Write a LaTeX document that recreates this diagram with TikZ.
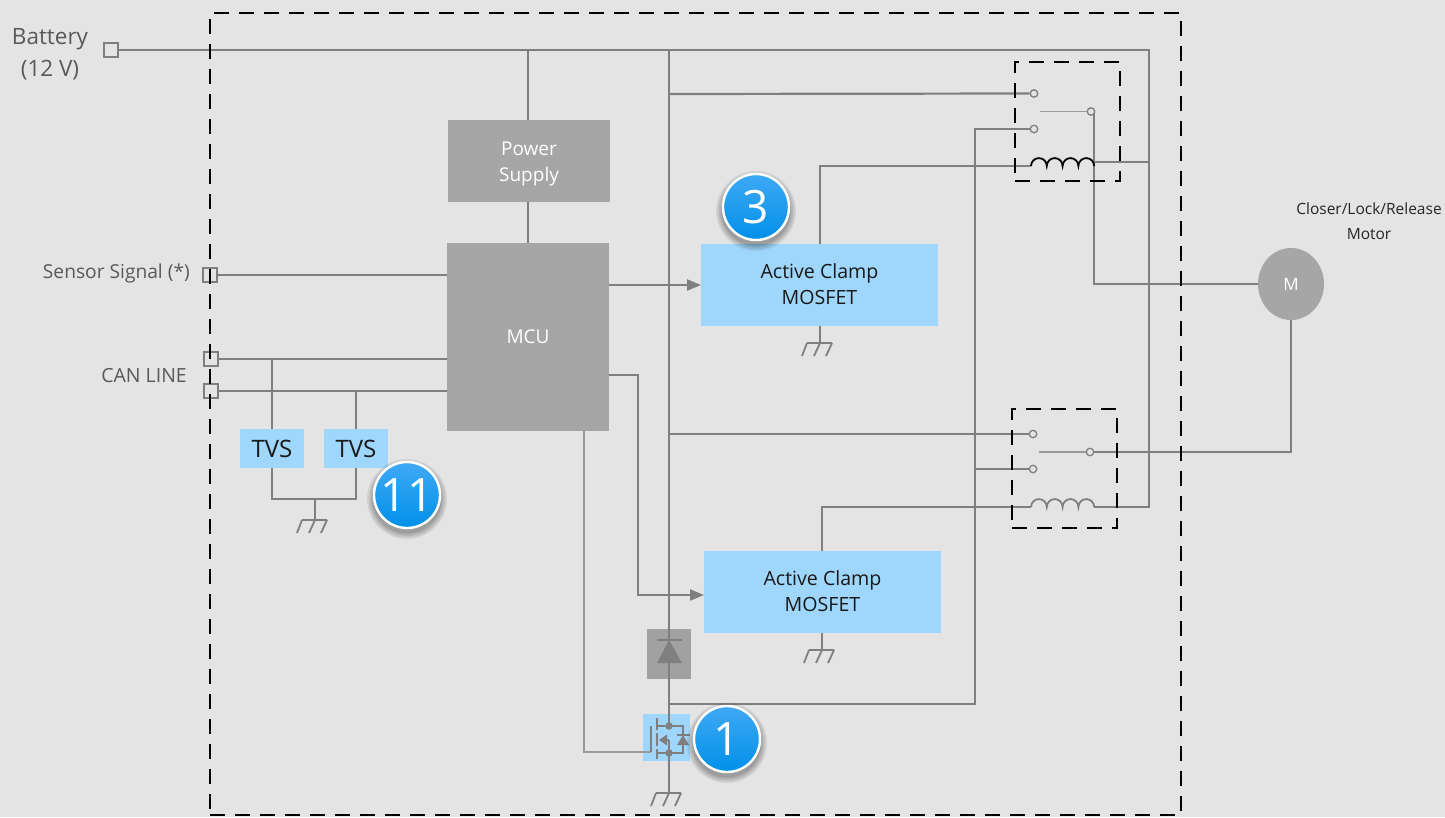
\documentclass[tikz,border=0pt]{standalone}
\usepackage{fontspec}
\setmainfont{Open Sans}
\usetikzlibrary{arrows.meta,calc,shapes.geometric}
\definecolor{bg}{HTML}{E4E4E4}
\definecolor{wire}{HTML}{7F7F7F}
\definecolor{blk}{HTML}{A6A6A6}
\definecolor{lblue}{HTML}{9FD6FB}
\definecolor{txt}{HTML}{595959}
\definecolor{badgetop}{HTML}{3FA9F5}
\definecolor{badgebot}{HTML}{0090E8}
\tikzset{
  wireline/.style={draw=wire,line width=2.2pt},
  thinwire/.style={draw=wire!80!white,line width=1.5pt},
  arrowwire/.style={wireline,-{Triangle[length=14pt,width=11pt]}},
  dashbox/.style={draw=black,line width=2.2pt,dash pattern=on 15pt off 10pt},
  graybox/.style={fill=blk,draw=none,text=white,inner sep=0pt,align=center,font=\fontsize{19}{26}\selectfont},
  bluebox/.style={fill=lblue,draw=none,text=black!90,inner sep=0pt,align=center,font=\fontsize{19.6}{26}\selectfont},
  tvsbox/.style={fill=lblue,draw=none,text=black!90,inner sep=0pt,minimum width=64pt,minimum height=39pt,font=\fontsize{24}{26}\selectfont},
  term/.style={draw=wire,line width=2.2pt,minimum size=14pt,inner sep=0pt},
  contact/.style={circle,draw=wire,fill=bg,line width=1.3pt,minimum size=7.5pt,inner sep=0pt},
  lbl/.style={text=txt,inner sep=0pt,align=center},
  dotnode/.style={circle,fill=wire,minimum size=7.5pt,inner sep=0pt},
  badge/.style={circle,draw=white,line width=2.4pt,minimum size=66pt,inner sep=0pt,text=white,top color=badgetop,bottom color=badgebot,font=\fontsize{46}{46}\selectfont},
}
\newcommand{\gndsym}[1]{%
  \draw[wireline,line width=1.8pt] ($(#1)+(-13,0)$) -- ($(#1)+(12,0)$)
    ($(#1)+(-13,0)$) -- ($(#1)+(-18,13)$)
    ($(#1)+(0,0)$) -- ($(#1)+(-6,13)$)
    ($(#1)+(12,0)$) -- ($(#1)+(6,13)$);}
\newcommand{\softshadow}[2]{%
  \foreach \r in {40,38.5,37,35.5,34.5}{\fill[black,opacity=.07] ($(#1)+(0,#2)$) circle (\r);}}
\newcommand{\coilpath}[2]{%
  \draw[#2,line width=1.8pt] (#1) arc (180:360:7.9) arc (180:360:7.9) arc (180:360:7.9) arc (180:360:7.9);}
\begin{document}
\begin{tikzpicture}[x=1pt,y=-1pt]
\useasboundingbox[fill=bg] (0,0) rectangle (1445,817);
% terminals
\node[term] (tbat) at (111,50) {};
\node[term] (tsen) at (210,275) {};
\node[term] (tcanh) at (211,359) {};
\node[term] (tcanl) at (211,391) {};
% blocks
\node[graybox,minimum width=162pt,minimum height=82pt] (psu) at (529,161) {\rule{0pt}{19pt}Power\\Supply};
\node[graybox,minimum width=162pt,minimum height=188pt] (mcu) at (528,337) {MCU};
\node[bluebox,minimum width=237pt,minimum height=82pt] (ac1) at (819.5,285) {Active Clamp\\MOSFET\rule[-2pt]{0pt}{2pt}};
\node[bluebox,minimum width=237pt,minimum height=82pt] (ac2) at (822.5,592) {Active Clamp\\MOSFET\rule[-2pt]{0pt}{2pt}};
\node[tvsbox] (tvs1) at (272,448.5) {TVS};
\node[tvsbox] (tvs2) at (356,448.5) {TVS};
\node[fill=blk!97!black,minimum width=44pt,minimum height=50pt,inner sep=0pt] (dbox) at (669,654) {};
\node[fill=lblue,minimum width=47pt,minimum height=47pt,inner sep=0pt] (qbox) at (666.5,737.5) {};
\node[ellipse,fill=blk,minimum width=66pt,minimum height=72pt,inner sep=0pt,text=white,font=\fontsize{17}{20}\selectfont] (motor) at (1291,284) {M};
% relay contacts
\node[contact] (c1a) at (1034,93.5) {};
\node[contact] (c1b) at (1034,129) {};
\node[contact] (c1c) at (1091,111.5) {};
\node[contact] (c2a) at (1033,434) {};
\node[contact] (c2b) at (1033,469) {};
\node[contact] (c2c) at (1090,452) {};
\coordinate (arm1) at (1040,111.5);
\coordinate (arm2) at (1039,452);
\coordinate (coil1l) at (1031,166);
\coordinate (coil1r) at (1094,162);
\coordinate (coil2l) at (1031,507);
\coordinate (coil2r) at (1094,507);
% junctions
\coordinate (railtop) at (1149,50);
\coordinate (v) at (669,50);
\coordinate (jd) at (669,704);
\coordinate (qdrain) at (669,726);
\coordinate (qsrc) at (669,753);
\coordinate (g1) at (820,343);
\coordinate (g2) at (822,650);
\coordinate (g3) at (315,520);
\coordinate (g4) at (669,793);
\coordinate (tvsj) at (315,499);
% wires
\draw[wireline] (tbat.east) -- (railtop) -- (1149,507) -- (coil2r);
\draw[wireline] (1149,162) -- (coil1r);
\draw[wireline] (528,50) -- (528,120);
\draw[wireline] (528,202) -- (528,243);
\draw[wireline] (v) -- (qdrain);
\draw[wireline] (669,94) -- (c1a.west);
\draw[wireline] (669,434) -- (c2a.west);
\draw[wireline] (jd) -- (975,704) -- (975,129) -- (c1b.west);
\draw[wireline] (975,469) -- (c2b.west);
\draw[wireline] (coil1l) -- (820,166) -- (820,244);
\draw[wireline] (coil2l) -- (822,507) -- (822,551);
\draw[wireline] (1094,113) -- (1094,284) -- (motor.west);
\draw[wireline] (c2c.east) -- (1291,452) -- (motor.south);
\draw[thinwire] (arm1) -- (c1c.west);
\draw[thinwire] (arm2) -- (c2c.west);
\draw[wireline] (tsen.east) -- (447,275);
\draw[wireline] (tcanh.east) -- (447,359);
\draw[wireline] (tcanl.east) -- (447,391);
\draw[arrowwire] (609,285) -- (701,285);
\draw[arrowwire] (609,375) -- (638,375) -- (638,595) -- (704,595);
\draw[thinwire] (584,431) -- (584,752) -- (651,752);
\draw[wireline] (272,359) -- (tvs1.north);
\draw[wireline] (356,391) -- (tvs2.north);
\draw[wireline] (tvs1.south) -- (272,499) -- (356,499) -- (tvs2.south);
\draw[wireline] (tvsj) -- (g3);
\draw[wireline] (820,326) -- (g1);
\draw[wireline] (822,633) -- (g2);
\draw[wireline] (qsrc) -- (g4);
\gndsym{g1}\gndsym{g2}\gndsym{g3}\gndsym{g4}
% coils
\coilpath{coil1l}{black}
\coilpath{coil2l}{wire}
% diode
\fill[wire] (657,663) -- (669,640) -- (682,663) -- cycle;
\draw[wire,line width=1.8pt] (657,640) -- (682,640);
% mosfet
\draw[wire,line width=1.8pt] (651,726) -- (651,752);
\draw[wire,line width=1.8pt] (657,718) -- (657,730) (657,733) -- (657,746) (657,749) -- (657,759);
\draw[wire,line width=1.6pt] (657,726) -- (qdrain) -- (683,726) -- (683,753) -- (qsrc) -- (657,753);
\draw[wire,line width=1.6pt] (669,740) -- (qsrc);
\draw[wire,line width=1.6pt] (669,740) -- (660,740);
\fill[wire] (659,740) -- (667,734.5) -- (667,745.5) -- cycle;
\fill[wire] (677,745) -- (683,735) -- (689,745) -- cycle;
\draw[wire,line width=1.4pt] (676.5,735) -- (689.5,735);
\node[dotnode] (qd) at (qdrain) {};
\node[dotnode] (qs) at (qsrc) {};
% dashed frames
\node[dashbox,minimum width=971pt,minimum height=802pt,inner sep=0pt] (frame) at (695.5,414) {};
\node[dashbox,minimum width=105pt,minimum height=119pt,inner sep=0pt] (rel1) at (1067.5,121.5) {};
\node[dashbox,minimum width=105pt,minimum height=119pt,inner sep=0pt] (rel2) at (1064.5,468.5) {};
% labels
\node[lbl,font=\fontsize{22.5}{32}\selectfont] (lbat) at (50,54.5) {Battery\\(12 V)};
\node[lbl,anchor=east,font=\fontsize{19.2}{20}\selectfont] (lsen) at (190,274) {Sensor Signal (*)};
\node[lbl,anchor=east,font=\fontsize{19.5}{20}\selectfont] (lcan) at (187,376) {CAN LINE};
\node[text=black!85,inner sep=0pt,align=center,font=\fontsize{15.5}{25}\selectfont] (lmot) at (1369,221.5) {Closer/Lock/Release\\Motor};
% badges
\softshadow{756,207}{4}
\softshadow{407,495}{4}
\softshadow{727,739}{4}
\node[badge] (b3) at (756,207) {3};
\node[badge] (b11) at (407,495) {11};
\node[badge] (b1) at (727,739) {1};
\end{tikzpicture}
\end{document}
